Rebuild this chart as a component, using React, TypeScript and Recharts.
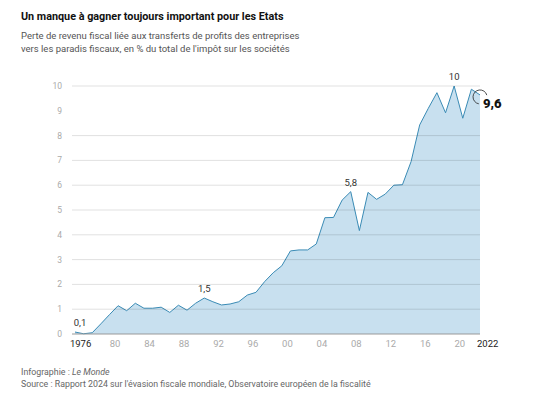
import { AreaChart, Area, XAxis, YAxis, ReferenceLine } from 'recharts';

// % of corporate tax revenue lost to profit shifting towards tax havens
const years = [
  1975, 1976, 1977, 1978, 1979, 1980, 1981, 1982, 1983, 1984, 1985, 1986,
  1987, 1988, 1989, 1990, 1991, 1992, 1993, 1994, 1995, 1996, 1997, 1998,
  1999, 2000, 2001, 2002, 2003, 2004, 2005, 2006, 2007, 2008, 2009, 2010,
  2011, 2012, 2013, 2014, 2015, 2016, 2017, 2018, 2019, 2020, 2021, 2022,
];
const shares = [
  0.08, 0.01, 0.05, 0.41, 0.78, 1.14, 0.94, 1.24, 1.04, 1.04, 1.08, 0.87,
  1.16, 0.96, 1.24, 1.45, 1.3, 1.17, 1.21, 1.3, 1.57, 1.68, 2.11, 2.47,
  2.75, 3.35, 3.39, 3.39, 3.63, 4.69, 4.7, 5.4, 5.74, 4.17, 5.71, 5.43,
  5.64, 6.0, 6.02, 6.95, 8.43, 9.1, 9.73, 8.92, 10.0, 8.7, 9.87, 9.64,
];

const yTicks = [0, 1, 2, 3, 4, 5, 6, 7, 8, 9, 10];
const gridValues = [1, 2, 3, 4, 5, 6, 7, 8, 10];
const xTicks = [1976, 1980, 1984, 1988, 1992, 1996, 2000, 2004, 2008, 2012, 2016, 2020, 2022];
const fullYearTicks = [1976, 2022];

const calloutYears = [1975, 1990, 2007, 2019, 2022];
const calloutTexts = ['0,1', '1,5', '5,8', '10', '9,6'];

const data = years.map((year, i) => ({ year, share: shares[i] }));

const FONT = 'Roboto, "Noto Sans", sans-serif';

function XTick({ x, y, payload }: any) {
  const v = payload.value as number;
  const full = fullYearTicks.includes(v);
  const last = v === 2022;
  return (
    <text
      x={x - 3}
      y={y}
      dy="0.71em"
      textAnchor={last ? 'start' : 'middle'}
      fontSize={9.5}
      fontFamily={FONT}
      fill={full ? '#222' : '#aaa'}
    >
      {full ? String(v) : String(v).slice(2)}
    </text>
  );
}

function CalloutDot({ cx, cy, index }: any) {
  const year = years[index];
  const k = calloutYears.indexOf(year);
  if (k < 0) return <g key={`d-${index}`} />;
  const text = calloutTexts[k];
  if (year === 2022) {
    const ox = cx;
    const oy = cy + 2;
    return (
      <g key={`d-${index}`}>
        <path
          d={`M ${ox + 6.8} ${oy - 1.8} A 7 7 0 1 0 ${ox - 1.2} ${oy + 6.9}`}
          fill="none"
          stroke="#222"
          strokeWidth={0.8}
        />
        <text x={cx + 3} y={cy + 13} fontSize={13} fontWeight={900} fontFamily={FONT} fill="#111">
          {text}
        </text>
      </g>
    );
  }
  return (
    <text
      key={`d-${index}`}
      x={index === 0 ? cx + 5 : cx}
      y={cy - 6}
      textAnchor="middle"
      fontSize={9.5}
      fontFamily={FONT}
      fill="#333"
    >
      {text}
    </text>
  );
}

export default function App() {
  return (
    <div
      style={{
        position: 'absolute',
        left: 0,
        top: 0,
        width: 538,
        height: 402,
        background: '#fff',
        fontFamily: FONT,
        overflow: 'hidden',
      }}
    >
      <div style={{ position: 'absolute', left: 21, top: 11.8, fontSize: 10.8, lineHeight: '10.8px', fontWeight: 700, color: '#111', whiteSpace: 'nowrap' }}>
        Un manque à gagner toujours important pour les Etats
      </div>
      <div style={{ position: 'absolute', left: 21, top: 28.7, fontSize: 9.5, lineHeight: '13.3px', color: '#555', whiteSpace: 'nowrap' }}>
        Perte de revenu fiscal liée aux transferts de profits des entreprises
        <br />
        vers les paradis fiscaux, en % du total de l'impôt sur les sociétés
      </div>

      <div style={{ position: 'absolute', left: 0, top: 0 }}>
        <AreaChart width={538} height={402} data={data} margin={{ top: 86, right: 58, bottom: 38, left: 42 }}>
          <XAxis
            type="number"
            dataKey="year"
            domain={[1975, 2022]}
            ticks={xTicks}
            padding={{ left: 3, right: 0 }}
            tickSize={0}
            tickMargin={6}
            tickLine={false}
            axisLine={{ stroke: '#999', strokeWidth: 1 }}
            tick={<XTick />}
            interval={0}
            height={30}
          />
          <YAxis
            type="number"
            domain={[0, 10]}
            ticks={yTicks}
            interval={0}
            width={30}
            tickSize={0}
            tickMargin={10}
            tickLine={false}
            axisLine={false}
            tick={{ fontSize: 8.5, fill: '#aaa', fontFamily: FONT }}
          />
          <Area
            type="linear"
            dataKey="share"
            stroke="#3a8bb5"
            strokeWidth={1}
            fill="#c8e0ef"
            fillOpacity={1}
            isAnimationActive={false}
            dot={<CalloutDot />}
            activeDot={false}
          />
          {gridValues.map((v) => (
            <ReferenceLine key={v} y={v} stroke="#000" strokeOpacity={0.12} strokeWidth={1} />
          ))}
        </AreaChart>
      </div>

      <div style={{ position: 'absolute', left: 21, top: 366, fontSize: 8.8, lineHeight: '12px', color: '#666', whiteSpace: 'nowrap' }}>
        Infographie : <i>Le Monde</i>
        <br />
        Source : Rapport 2024 sur l'évasion fiscale mondiale, Observatoire européen de la fiscalité
      </div>
    </div>
  );
}
